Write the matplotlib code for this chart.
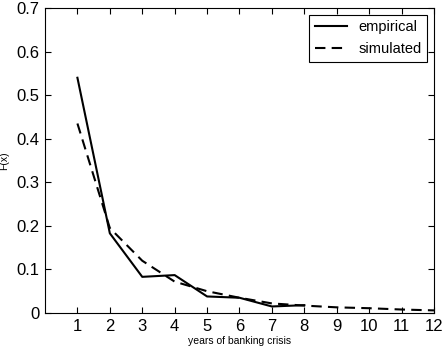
import matplotlib
matplotlib.use("Agg")
import matplotlib.pyplot as plt

plt.rcParams['font.family'] = ['Liberation Sans', 'DejaVu Sans']

## data
years_emp = [1, 2, 3, 4, 5, 6, 7, 8]
empirical = [0.54, 0.183, 0.083, 0.087, 0.038, 0.035, 0.015, 0.018]
years_sim = [1, 2, 3, 4, 5, 6, 7, 8, 9, 10, 11, 12]
simulated = [0.435, 0.195, 0.12, 0.072, 0.05, 0.035, 0.022, 0.017, 0.013, 0.011, 0.008, 0.006]

fig = plt.figure(figsize=(4.43, 3.5), dpi=100)
ax = fig.add_axes([0.1016, 0.1057, 0.878, 0.8713])

ax.plot(years_emp, empirical, color="black", linewidth=1.5, label="empirical")
ax.plot(years_sim, simulated, color="black", linewidth=1.5, linestyle=(0, (5, 3)), label="simulated")

ax.set_xlim(0, 12)
ax.set_ylim(0, 0.7)
ax.set_xticks(range(1, 13))
ax.set_yticks([0, 0.1, 0.2, 0.3, 0.4, 0.5, 0.6, 0.7])
ax.set_yticklabels(["0", "0.1", "0.2", "0.3", "0.4", "0.5", "0.6", "0.7"])
ax.tick_params(direction="in", top=True, right=True, labelsize=12, length=4, pad=4)
for s in ax.spines.values():
    s.set_linewidth(0.8)

ax.set_xlabel("years of banking crisis", fontsize=7.5, labelpad=2)
ax.set_ylabel("F(x)", fontsize=7.5)
ax.yaxis.set_label_coords(-0.092, 0.5)

leg = ax.legend(loc="upper right", fontsize=10.5, fancybox=False, framealpha=1,
                edgecolor="black", handlelength=2.2, borderaxespad=0.45)
leg.get_frame().set_linewidth(0.8)

plt.savefig("out.png", dpi=100)
